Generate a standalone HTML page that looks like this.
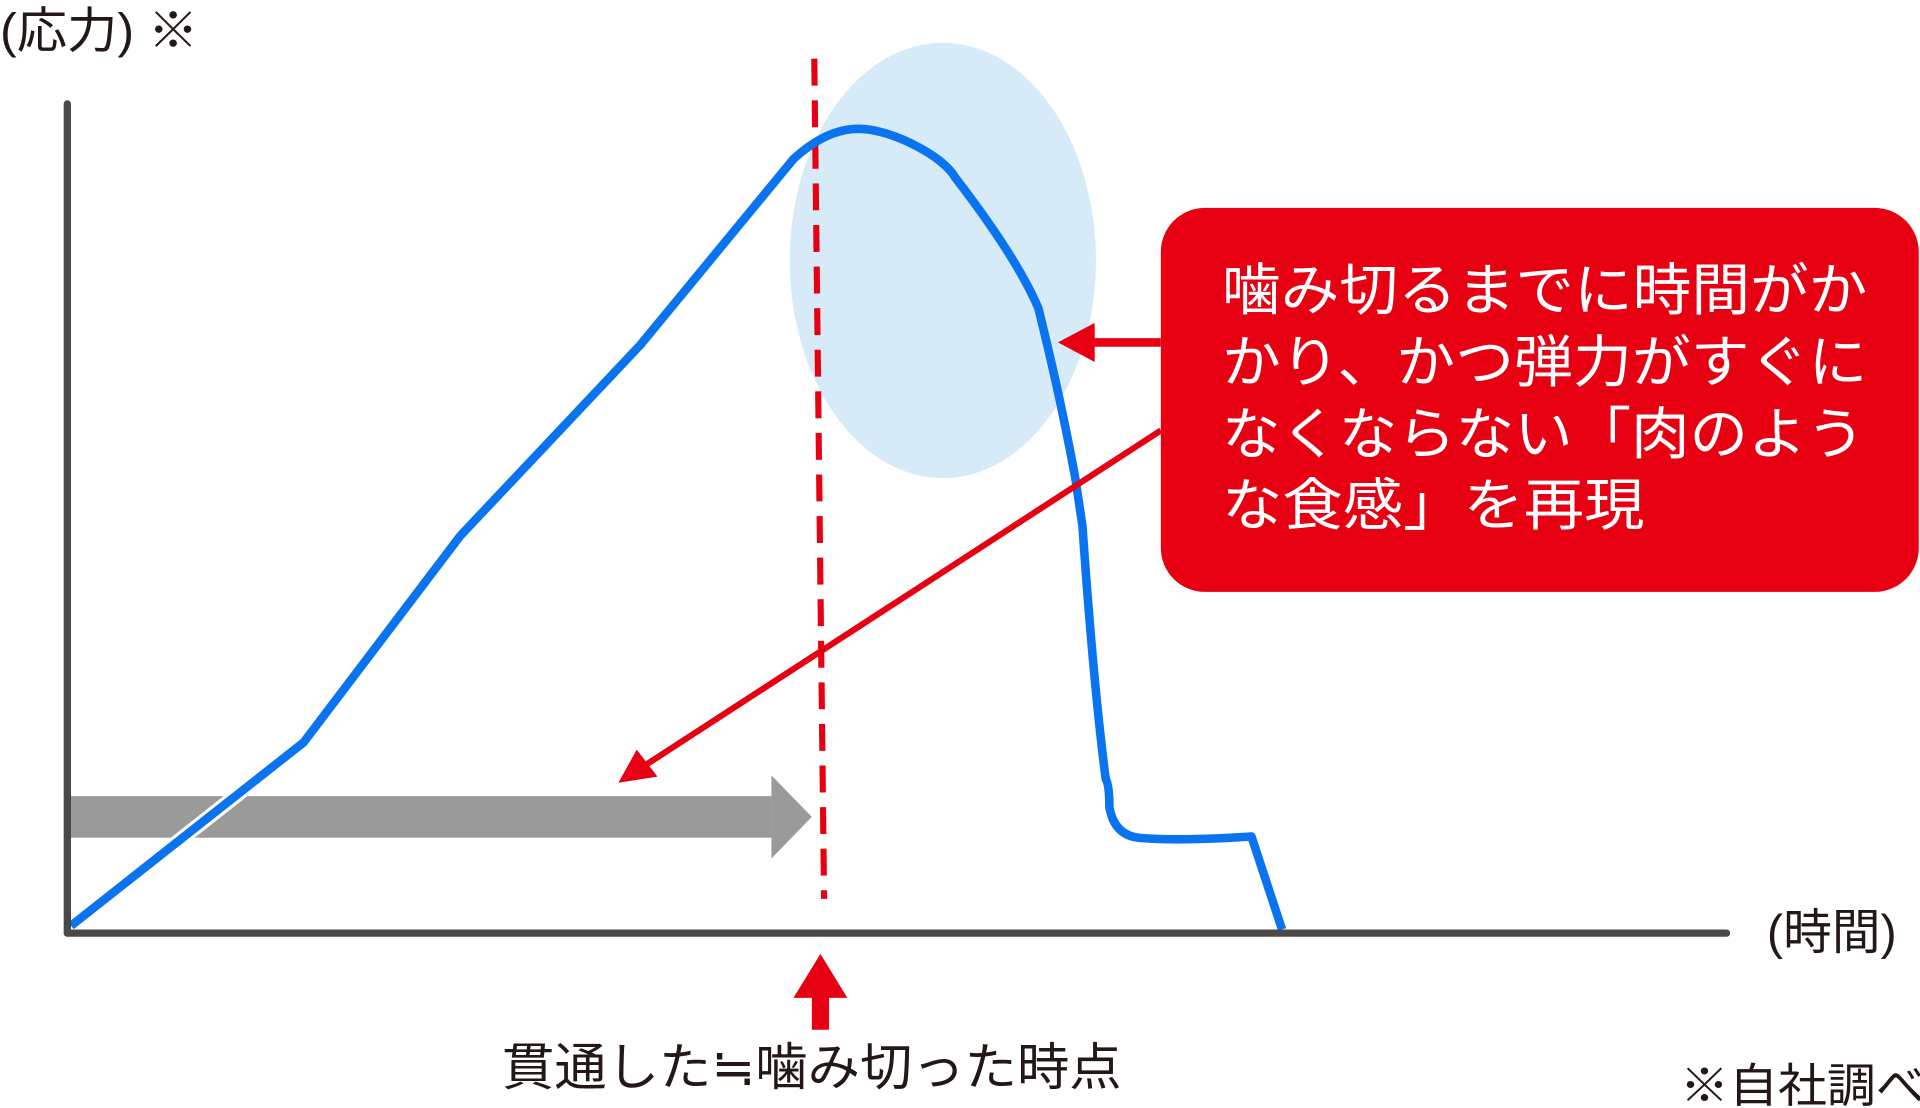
<!DOCTYPE html>
<html><head><meta charset="utf-8"><style>
html,body{margin:0;padding:0;background:#fff;overflow:hidden}
svg{display:block}
text{font-family:"Liberation Sans","Noto Sans CJK JP",sans-serif}
</style></head><body>
<svg width="1920" height="1108" viewBox="0 0 1568 906" preserveAspectRatio="none">
<ellipse cx="770" cy="213" rx="125" ry="178" fill="#d6ebf7"/>
<line x1="665" y1="48" x2="673" y2="735" stroke="#e60012" stroke-width="5" stroke-dasharray="22 12"/>
<rect x="58" y="651" width="572" height="34" fill="#9a9a9a"/>
<polygon points="630,634 663,668 630,702" fill="#9a9a9a"/>
<polyline points="58,757 248,607 376,438 523,282 648,130" fill="none" stroke="#fff" stroke-width="12"/>
<path d="M58,757 L248,607 L376,438 L523,282 L648,130 C670,110 690,103 710,106 C735,110 770,128 780,145 Q830,210 848,252 Q865,320 878,390 L884,430 Q893,560 903,637 Q906,642 906,660 Q910,683 930,685 Q960,688 1022,684 L1047,760" fill="none" stroke="#0a74f0" stroke-width="7" stroke-linejoin="round"/>
<line x1="55" y1="85" x2="55" y2="763" stroke="#4d4848" stroke-width="6" stroke-linecap="round"/>
<line x1="55" y1="763" x2="1410" y2="763" stroke="#4d4848" stroke-width="6" stroke-linecap="round"/>
<rect x="948" y="170" width="619" height="314" rx="36" fill="#e60012"/>
<g fill="#fff" font-size="46">
<text x="998" y="253" textLength="527" lengthAdjust="spacingAndGlyphs">噛み切るまでに時間がか</text>
<text x="998" y="312" textLength="527" lengthAdjust="spacingAndGlyphs">かり、かつ弾力がすぐに</text>
<text x="998" y="371" textLength="525" lengthAdjust="spacingAndGlyphs">なくならない「肉のよう</text>
<text x="998" y="429" textLength="345" lengthAdjust="spacingAndGlyphs">な食感」を再現</text>
</g>
<line x1="948" y1="280" x2="890" y2="280" stroke="#e60012" stroke-width="7"/>
<polygon points="864,280 894,264 894,296" fill="#e60012"/>
<line x1="948" y1="352" x2="525" y2="627" stroke="#e60012" stroke-width="5"/>
<polygon points="505,640 520,613 537,635" fill="#e60012"/>
<rect x="663" y="808" width="14" height="34" fill="#e60012"/>
<polygon points="670,780 648,816 692,816" fill="#e60012"/>
<g fill="#231815">
<text x="0" y="39" font-size="40" textLength="162" lengthAdjust="spacingAndGlyphs">(応力) ※</text>
<text x="1443" y="776" font-size="40" textLength="106" lengthAdjust="spacingAndGlyphs">(時間)</text>
<text x="410" y="887" font-size="42" textLength="506" lengthAdjust="spacingAndGlyphs">貫通した≒噛み切った時点</text>
<text x="1372" y="901" font-size="38" textLength="200" lengthAdjust="spacingAndGlyphs">※自社調べ</text>
</g>
</svg>
</body></html>
